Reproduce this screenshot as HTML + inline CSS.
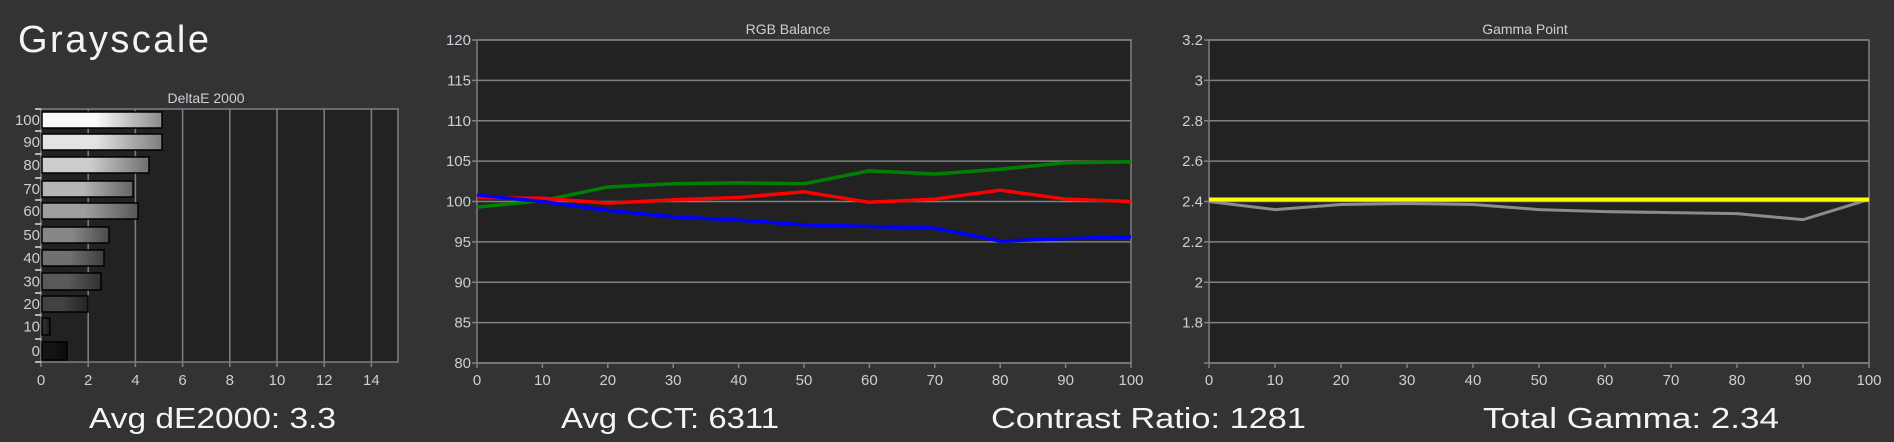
<!DOCTYPE html>
<html><head><meta charset="utf-8"><style>
html,body{margin:0;padding:0;background:#333333;}
svg{display:block;}
text{font-family:"Liberation Sans",sans-serif;}
</style></head><body>
<svg id="s" width="1894" height="442" xmlns="http://www.w3.org/2000/svg"></svg>
<script>
const s=document.getElementById('s');let h='';
h+='<rect width="1894" height="442" fill="#333333"/>';
h+='<defs>';
const bars=[[100,112,128,162],[90,134,150,162],[80,157,173,149],[70,181,197,133],[60,203,219,138],[50,227,243,109],[40,250,266,104],[30,273,290,101],[20,296,312,88],[10,318,335,50],[0,342,360,67]];
bars.forEach((b,i)=>{const L=Math.round(20+b[0]*2.3);const l=Math.min(255,L);const d=Math.round(l*0.55);
h+=`<linearGradient id="g${i}" x1="0" x2="1"><stop offset="0" stop-color="rgb(${l},${l},${l})"/><stop offset="0.45" stop-color="rgb(${l},${l},${l})"/><stop offset="1" stop-color="rgb(${d},${d},${d})"/></linearGradient>`;});
h+='</defs>';
const lc='#c9d0d8', gc='#808080';
h+=`<text x="18" y="52" font-size="38" fill="#f2f4f6" textLength="191">Grayscale</text>`;
const dx0=41,dx1=398,dy0=109,dy1=362,du=23.6;
h+=`<rect x="${dx0}" y="${dy0}" width="${dx1-dx0}" height="${dy1-dy0}" fill="#222222" stroke="${gc}" stroke-width="1.5"/>`;
for(let v=2;v<=14;v+=2){const x=dx0+v*du;h+=`<line x1="${x}" y1="${dy0}" x2="${x}" y2="${dy1}" stroke="${gc}" stroke-width="1.5"/>`;}
for(let v=0;v<=14;v+=2){const x=dx0+v*du;h+=`<line x1="${x}" y1="${dy1}" x2="${x}" y2="${dy1+5}" stroke="${gc}" stroke-width="1.5"/><text x="${x}" y="385" font-size="15" fill="${lc}" text-anchor="middle">${v}</text>`;}
h+=`<text x="206" y="103" font-size="14" fill="${lc}" text-anchor="middle">DeltaE 2000</text>`;
bars.forEach((b,i)=>{h+=`<rect x="${dx0+1}" y="${b[1]}" width="${b[3]-dx0-1}" height="${b[2]-b[1]}" fill="url(#g${i})" stroke="#000" stroke-width="1.5"/>`;
const c=(b[1]+b[2])/2;h+=`<text x="40" y="${c+5}" font-size="15" fill="${lc}" text-anchor="end">${b[0]}</text>`;
h+=`<line x1="35" y1="${b[1]-3}" x2="41" y2="${b[1]-3}" stroke="#ddd" stroke-width="1.5"/>`;});
h+=`<line x1="35" y1="${dy1}" x2="41" y2="${dy1}" stroke="#ddd" stroke-width="1.5"/>`;
function chart(x0,x1,y0,y1,vmin,vmax,step,labels,title,tx){
  h+=`<rect x="${x0}" y="${y0}" width="${x1-x0}" height="${y1-y0}" fill="#222222" stroke="${gc}" stroke-width="1.5"/>`;
  const n=Math.round((vmax-vmin)/step);
  for(let i=0;i<=n;i++){const y=y1-(y1-y0)*i/n;h+=`<line x1="${x0-5}" y1="${y}" x2="${x1}" y2="${y}" stroke="${gc}" stroke-width="1.5"/><text x="${x0-6}" y="${y+5}" font-size="15" fill="${lc}" text-anchor="end">${labels[i]}</text>`;}
  for(let i=0;i<=10;i++){const x=x0+(x1-x0)*i/10;h+=`<line x1="${x}" y1="${y1}" x2="${x}" y2="${y1+5}" stroke="${gc}" stroke-width="1.5"/><text x="${x}" y="385" font-size="15" fill="${lc}" text-anchor="middle">${i*10}</text>`;}
  h+=`<text x="${tx}" y="34" font-size="14" fill="${lc}" text-anchor="middle">${title}</text>`;
  return (arr,col,w)=>{const p=arr.map((v,i)=>`${x0+(x1-x0)*i/10},${y1-(v-vmin)/(vmax-vmin)*(y1-y0)}`).join(' ');h+=`<polyline points="${p}" fill="none" stroke="${col}" stroke-width="${w}" stroke-linejoin="round"/>`;};
}
const rl=[];for(let v=80;v<=120;v+=5)rl.push(v);
const rgb=chart(477,1131,40,363,80,120,5,rl,'RGB Balance',788);
rgb([99.3,100.1,101.8,102.2,102.3,102.2,103.8,103.4,104.0,104.8,104.9],'#008000',3.5);
rgb([100.5,100.4,99.8,100.2,100.5,101.2,99.9,100.3,101.4,100.3,100.0],'#ff0000',3.5);
rgb([100.8,100.0,98.9,98.1,97.7,97.1,96.9,96.7,95.1,95.4,95.6],'#0000ff',3.5);
const gl=['','1.8','2','2.2','2.4','2.6','2.8','3','3.2'];
const gm=chart(1209,1869,40,363,1.6,3.2,0.2,gl,'Gamma Point',1525);
gm([2.40,2.36,2.385,2.39,2.385,2.36,2.35,2.345,2.34,2.31,2.41],'#8c8c8c',3);
gm([2.41,2.41,2.41,2.41,2.41,2.41,2.41,2.41,2.41,2.41,2.41],'#ffff00',4);
const bt=[['Avg dE2000: 3.3',89,247],['Avg CCT: 6311',561,218],['Contrast Ratio: 1281',991,315],['Total Gamma: 2.34',1483,296]];
bt.forEach(t=>{h+=`<text x="${t[1]}" y="428" font-size="29" fill="#f2f4f6" textLength="${t[2]}" lengthAdjust="spacingAndGlyphs">${t[0]}</text>`;});
s.innerHTML=h;
</script>
</body></html>
